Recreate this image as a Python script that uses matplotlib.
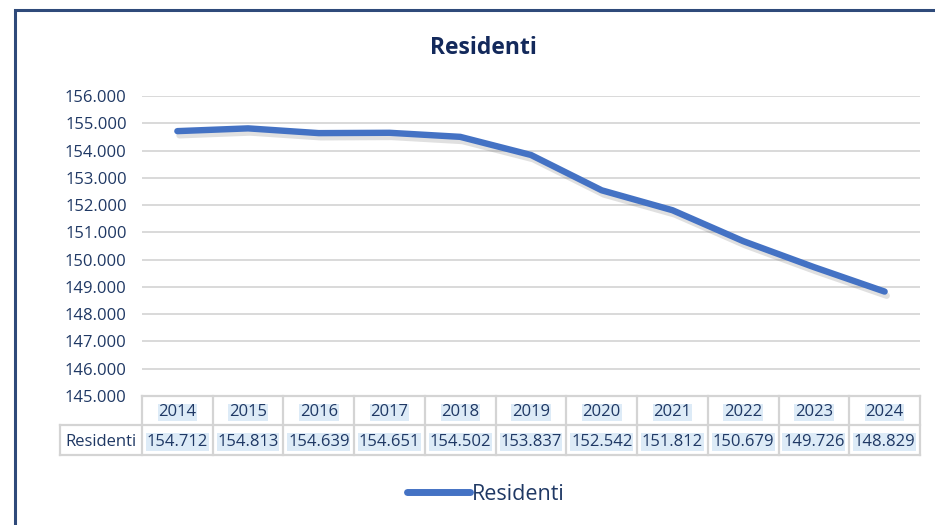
import matplotlib.pyplot as plt
import matplotlib.patheffects as pe
from matplotlib.patches import Rectangle
from matplotlib.transforms import blended_transform_factory

plt.rcParams['font.family'] = ['Open Sans', 'DejaVu Sans']

anni = ['2014', '2015', '2016', '2017', '2018', '2019', '2020', '2021', '2022', '2023', '2024']
residenti = [154712, 154813, 154639, 154651, 154502, 153837, 152542, 151812, 150679, 149726, 148829]
yticks = list(range(145000, 156001, 1000))

navy = '#1F3864'
blu = '#4472C4'
grigio = '#D9D9D9'
evid = '#DDEBF7'

def fmt(v):
    return f'{v:,}'.replace(',', '.')

W, H = 935, 525
fig = plt.figure(figsize=(W / 100, H / 100), dpi=100)

# cornice
fig.add_artist(Rectangle((15 / W, -0.1), 1.2, 1 - 10 / H + 0.1, transform=fig.transFigure,
                         fill=False, edgecolor='#2F4A7A', linewidth=2.2))

L, R, T, B = 142, 920, 96, 396
ax = fig.add_axes([L / W, 1 - B / H, (R - L) / W, (B - T) / H])
x = list(range(len(anni)))
ax.plot(x, residenti, color=blu, linewidth=4.6, solid_capstyle='round', solid_joinstyle='round',
        label='Residenti', zorder=3,
        path_effects=[pe.SimpleLineShadow(offset=(1.5, -3), shadow_color='#666666', alpha=0.2),
                      pe.Normal()])
ax.set_xlim(-0.5, len(anni) - 0.5)
ax.set_ylim(145000, 156000)
ax.set_yticks(yticks)
ax.set_yticklabels([fmt(v) for v in yticks], color=navy, fontsize=12)
ax.tick_params(axis='y', length=0, pad=11)
ax.set_xticks([])
ax.grid(axis='y', color=grigio, linewidth=1.4)
ax.set_axisbelow(True)
for s in ax.spines.values():
    s.set_visible(False)

fig.text(483 / W, 1 - 48 / H, 'Residenti', color='#13295B', fontsize=16.5, fontweight='bold',
         ha='center', va='center')

# tabella dati
tr = blended_transform_factory(ax.transData, ax.transAxes)
h = B - T
r0, r1, r2 = 0 / h, -29 / h, -59 / h
dy = -2 / h
xl = -0.5 - (L - 60) / ((R - L) / len(anni))
lc = '#D4D4D4'
lw = 1.6
ax.plot([-0.5, 10.5], [r0, r0], color=lc, lw=lw, transform=tr, clip_on=False)
ax.plot([xl, 10.5], [r1, r1], color=lc, lw=lw, transform=tr, clip_on=False)
ax.plot([xl, 10.5], [r2, r2], color=lc, lw=lw, transform=tr, clip_on=False)
ax.plot([xl, xl], [r1, r2], color=lc, lw=lw, transform=tr, clip_on=False)
for i in range(len(anni) + 1):
    ax.plot([i - 0.5, i - 0.5], [r0, r2], color=lc, lw=lw, transform=tr, clip_on=False)
for i, (a, v) in enumerate(zip(anni, residenti)):
    ax.text(i, (r0 + r1) / 2 + dy, a, transform=tr, ha='center', va='center', color=navy, fontsize=12,
            bbox=dict(facecolor=evid, edgecolor='none', pad=0.5))
    ax.text(i, (r1 + r2) / 2 + dy, fmt(v), transform=tr, ha='center', va='center', color=navy, fontsize=12,
            bbox=dict(facecolor=evid, edgecolor='none', pad=0.5))
ax.text((xl - 0.5) / 2, (r1 + r2) / 2 + dy, 'Residenti', transform=tr, ha='center', va='center',
        color=navy, fontsize=12)

leg = fig.legend(loc='center', bbox_to_anchor=(486 / W, 1 - 494 / H), frameon=False, fontsize=15.5,
                 handlelength=2.9, handletextpad=0.1, labelcolor=navy)
for ln in leg.get_lines():
    ln.set_path_effects([])
    ln.set_linewidth(5)

fig.savefig('out.png', dpi=100)
